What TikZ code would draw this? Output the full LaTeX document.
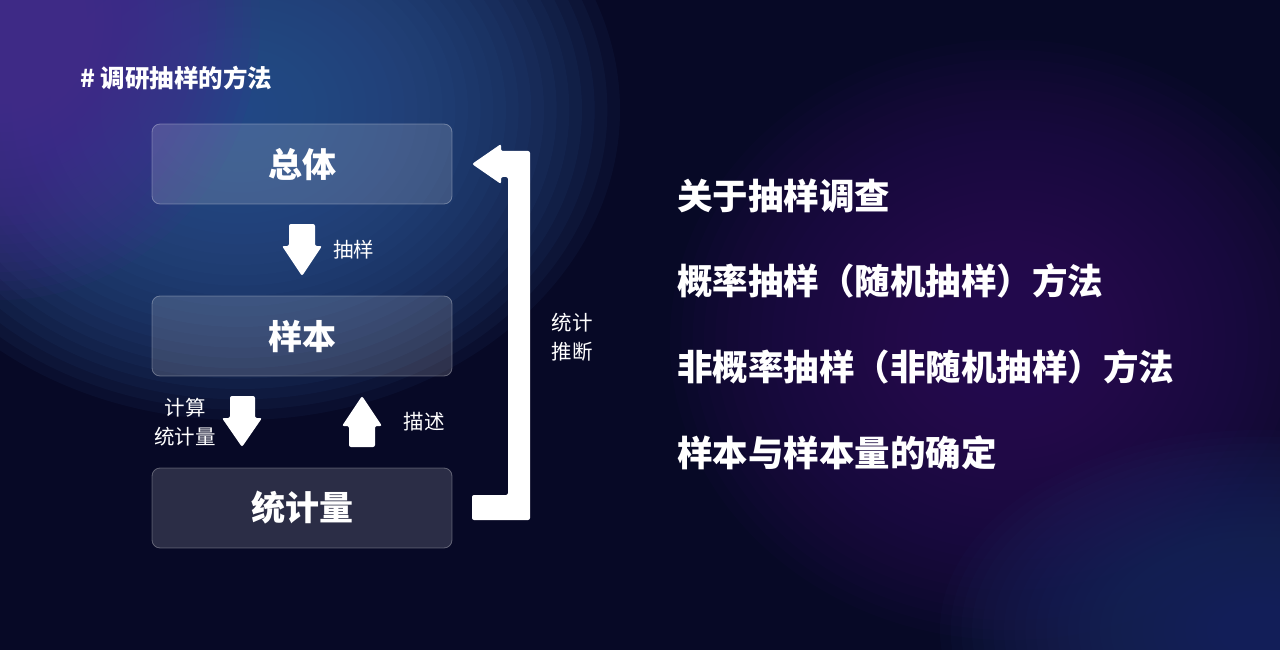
\documentclass[tikz,border=0pt]{standalone}
\usepackage{fontspec}
\setmainfont{Noto Sans CJK SC}
\definecolor{bg}{HTML}{070926}
\definecolor{glowblue}{HTML}{2C5290}
\definecolor{glowpurple}{HTML}{4A2A92}
\definecolor{glowviolet}{HTML}{30145A}
\definecolor{glowbr}{HTML}{202C66}
\newcommand{\glowat}[6]{% color, x, y, rx, ry, opacity
  \foreach \k in {1,...,30}{\fill[#1, opacity=#6] (#2,#3) ellipse ({#4*\k/30} and {#5*\k/30});}}
\begin{document}
\begin{tikzpicture}[x=1pt,y=-1pt,
  box/.style={draw=white, draw opacity=0.3, fill=white, fill opacity=0.15, text opacity=1,
    rounded corners=8pt, line width=0.8pt, minimum width=300pt, minimum height=80pt,
    text=white, font=\fontsize{34}{36}\selectfont\bfseries},
  small/.style={text=white, font=\fontsize{20.5}{29}\selectfont, align=center, inner sep=0pt},
  item/.style={text=white, font=\fontsize{35.5}{40}\selectfont\bfseries, anchor=west, inner sep=0pt},
  blockarrow/.style={fill=white, draw=none, rounded corners=2pt}]
\useasboundingbox (0,0) rectangle (1280,650);
\fill[bg] (0,0) rectangle (1280,650);
% background glows
\glowat{glowblue}{240}{110}{380}{310}{0.09}
\glowat{glowpurple}{0}{20}{260}{280}{0.08}
\glowat{glowviolet}{1010}{340}{340}{300}{0.065}
\glowat{glowbr}{1260}{630}{320}{200}{0.07}

% title
\node[text=white, font=\fontsize{24.5}{28}\selectfont\bfseries, anchor=west, inner sep=0pt] (title) at (80,78) {\# 调研抽样的方法};

% boxes
\node[box] (zt) at (302,164) {总体};
\node[box] (yb) at (302,336) {样本};
\node[box] (tjl) at (302,508) {统计量};

% block arrows
\path[blockarrow] (289,224) -- (315,224) -- (315,246) -- (322,246) -- (302,276) -- (282,246) -- (289,246) -- cycle;
\node[small, anchor=west] (cy) at (333,250) {抽样};

\path[blockarrow] (230,396) -- (255,396) -- (255,418) -- (262,418) -- (242,447) -- (222,418) -- (230,418) -- cycle;
\node[small] (js) at (185,422) {计算\\统计量};

\path[blockarrow] (362,396) -- (382,426) -- (375,426) -- (375,447) -- (349,447) -- (349,426) -- (342,426) -- cycle;
\node[small] (ms) at (424,422) {描述};

% bracket arrow: 统计量 -> 总体
\path[blockarrow] (472,495) -- (508,495) -- (508,177) -- (501,177) -- (501,184) -- (472,164) -- (501,144) -- (501,151) -- (530,151) -- (530,520) -- (472,520) -- cycle;
\node[small] (tjtd) at (572,337) {统计\\推断};

% right list
\node[item] (l1) at (677,196) {关于抽样调查};
\node[item] (l2) at (677,281) {概率抽样（随机抽样）方法};
\node[item] (l3) at (677,367) {非概率抽样（非随机抽样）方法};
\node[item] (l4) at (677,453) {样本与样本量的确定};
\end{tikzpicture}
\end{document}
